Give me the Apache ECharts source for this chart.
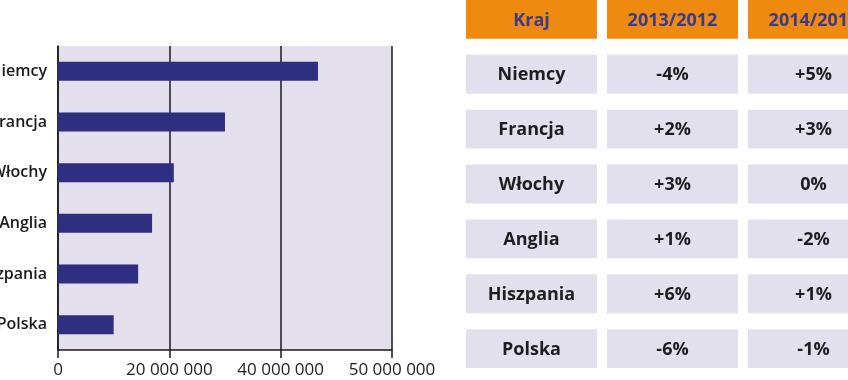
<!DOCTYPE html>
<html><head><meta charset="utf-8">
<script src="https://cdn.jsdelivr.net/npm/echarts@6/dist/echarts.min.js"></script>
<style>html,body{margin:0;padding:0;background:#fff}#c{width:848px;height:380px}</style>
</head><body><div id="c"></div>
<script>
// --- data ---
const countries = ['Niemcy', 'Francja', 'Włochy', 'Anglia', 'Hiszpania', 'Polska'];
const values = [46700000, 30000000, 20800000, 16900000, 14400000, 10000000];
const xTickLabels = ['0', '20 000 000', '40 000 000', '50 000 000'];
const tableHeader = ['Kraj', '2013/2012', '2014/2013'];
const change2013 = ['-4%', '+2%', '+3%', '+1%', '+6%', '-6%'];
const change2014 = ['+5%', '+3%', '0%', '-2%', '+1%', '-1%'];

// table cells built from the arrays
const tableRows = [tableHeader].concat(countries.map((c, i) => [c, change2013[i], change2014[i]]));
const cells = [];
tableRows.forEach((row, r) => row.forEach((txt, col) => cells.push([col, r, txt])));

const FONT = '"Open Sans", "Noto Sans", sans-serif';
const chart = echarts.init(document.getElementById('c'), null, {renderer: 'canvas'});
chart.setOption({
  animation: false,
  grid: [
    {left: 58, top: 46, width: 334, height: 304, show: true, backgroundColor: '#e3dfed', borderWidth: 0,
     containLabel: false, outerBoundsMode: 'none'},
    {left: 461, top: -8, width: 423, height: 384, containLabel: false, outerBoundsMode: 'none'}
  ],
  xAxis: [
    {
      type: 'value', gridIndex: 0, min: 0, max: 60000000, interval: 20000000,
      axisLine: {show: true, lineStyle: {color: '#1a1a1a', width: 1.5}},
      axisTick: {show: true, length: 8, lineStyle: {color: '#1a1a1a', width: 1.5}},
      splitLine: {show: true, lineStyle: {color: '#1a1a1a', width: 1.5}},
      axisLabel: {
        color: '#222', fontFamily: FONT, fontSize: 17, margin: 12,
        formatter: (v) => xTickLabels[Math.round(v / 20000000)]
      }
    },
    {type: 'category', gridIndex: 1, data: [0, 1, 2], show: false}
  ],
  yAxis: [
    {
      type: 'category', gridIndex: 0, data: countries, inverse: true,
      axisLine: {show: true, lineStyle: {color: '#1a1a1a', width: 1.5}},
      axisTick: {show: false},
      axisLabel: {color: '#1a1a1a', fontFamily: FONT, fontSize: 16, fontWeight: 600, margin: 11}
    },
    {type: 'category', gridIndex: 1, data: tableRows.map((r, i) => i), inverse: true, show: false}
  ],
  series: [
    {
      type: 'bar', xAxisIndex: 0, yAxisIndex: 0, data: values, barWidth: 19,
      itemStyle: {color: '#2e2f80'}, z: 1
    },
    {
      type: 'custom', xAxisIndex: 1, yAxisIndex: 1, data: cells,
      encode: {x: 0, y: 1},
      renderItem: function (params, api) {
        const col = api.value(0), row = api.value(1);
        const txt = cells[params.dataIndex][2];
        const p = api.coord([col, row]);
        const s = api.size([1, 1]);
        const w = s[0] - 10, h = s[1] - 16;
        const header = row === 0;
        return {
          type: 'group',
          children: [
            {type: 'rect', shape: {x: p[0] - w / 2, y: p[1] - h / 2, width: w, height: h},
             style: {fill: header ? '#ee8a10' : '#e3e0ee'}},
            {type: 'text', x: p[0], y: p[1] + 1,
             style: {text: txt, align: 'center', verticalAlign: 'middle',
                     fill: header ? '#3c3a8c' : '#1e1e1e', font: '700 18px ' + FONT}}
          ]
        };
      }
    }
  ]
});
</script></body></html>
